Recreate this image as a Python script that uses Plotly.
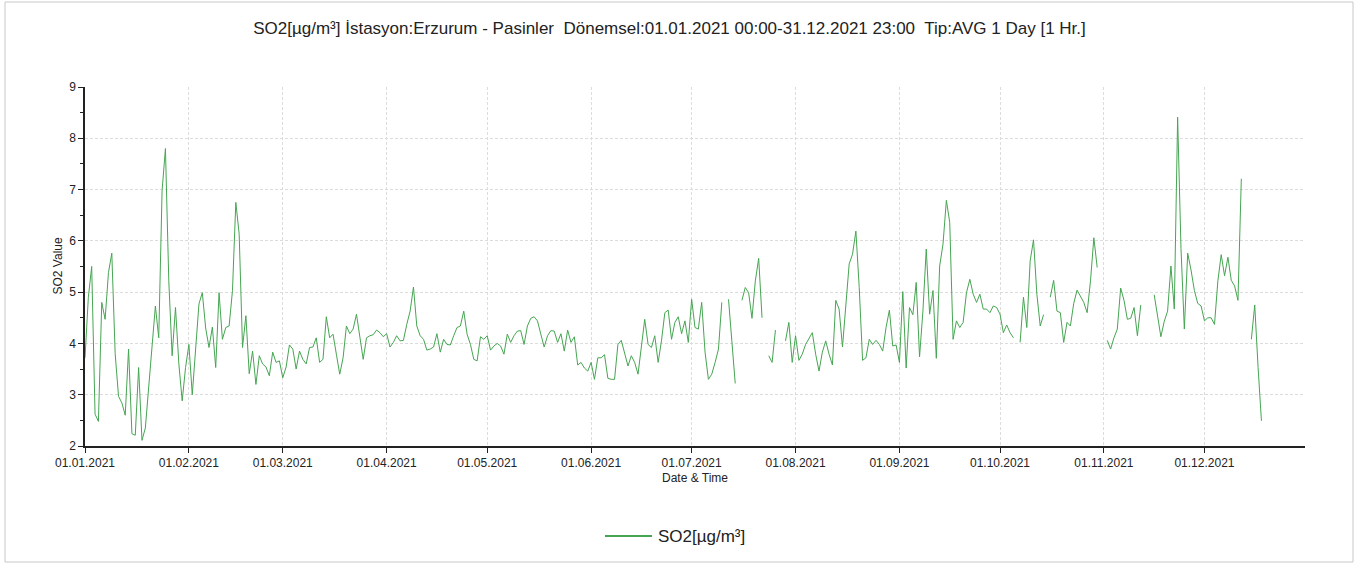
import pandas as pd
import plotly.graph_objects as go

# Daily SO2 averages (µg/m³), one list per month; None = no valid data that day
so2_jan = [3.72, 4.9, 5.5, 2.62, 2.48, 4.8, 4.47, 5.38, 5.76, 3.8, 2.97, 2.84, 2.6, 3.89, 2.24, 2.21,
           3.53, 2.11, 2.35, 3.2, 3.92, 4.73, 4.11, 6.98, 7.8, 5.22, 3.76, 4.7, 3.6, 2.88, 3.53]
so2_feb = [3.98, 3.0, 3.98, 4.77, 4.99, 4.3, 3.92, 4.32, 3.53, 4.99, 4.08, 4.31, 4.34, 5.03, 6.75, 6.13,
           3.92, 4.54, 3.41, 3.85, 3.2, 3.76, 3.6, 3.54, 3.37, 3.83, 3.63, 3.66]
so2_mar = [3.33, 3.54, 3.97, 3.89, 3.5, 3.85, 3.69, 3.6, 3.92, 3.93, 4.11, 3.63, 3.69, 4.52, 4.11, 4.18,
           3.79, 3.4, 3.72, 4.34, 4.19, 4.28, 4.57, 4.11, 3.69, 4.11, 4.15, 4.17, 4.26, 4.21, 4.13]
so2_apr = [4.19, 3.93, 4.02, 4.15, 4.05, 4.06, 4.37, 4.63, 5.1, 4.34, 4.15, 4.08, 3.87, 3.89, 3.93, 4.19,
           3.83, 4.08, 3.98, 3.97, 4.15, 4.31, 4.34, 4.63, 4.18, 3.98, 3.69, 3.66, 4.13, 4.08]
so2_may = [4.15, 3.87, 3.95, 4.0, 3.95, 3.79, 4.18, 4.02, 4.15, 4.24, 4.25, 3.98, 4.34, 4.49, 4.52, 4.44,
           4.18, 3.93, 4.15, 4.25, 4.24, 4.02, 4.19, 3.85, 4.26, 4.02, 4.13, 3.58, 3.63, 3.52, 3.46]
so2_jun = [3.63, 3.3, 3.72, 3.72, 3.78, 3.32, 3.3, 3.3, 3.98, 4.06, 3.79, 3.56, 3.76, 3.63, 3.4, 3.92,
           4.47, 3.98, 3.92, 4.15, 3.63, 4.05, 4.6, 4.65, 4.08, 4.41, 4.52, 4.19, 4.44, 4.02]
so2_jul = [4.86, 4.31, 4.28, 4.8, 3.83, 3.3, 3.4, 3.63, 3.89, 4.8, None, 4.86, 4.05, 3.22, None, 4.84,
           5.09, 4.99, 4.49, 5.22, 5.66, 4.5, None, 3.76, 3.63, 4.26, None, None, 4.05, 4.41, 3.63]
so2_aug = [4.15, 3.67, 3.79, 3.98, 4.11, 4.21, 3.79, 3.46, 3.83, 4.05, 3.79, 3.58, 4.84, 4.67, 3.93, 4.7,
           5.55, 5.74, 6.19, 5.09, 3.67, 3.72, 4.08, 3.98, 4.06, 3.98, 3.85, 4.31, 4.65, 3.95, 3.97]
so2_sep = [3.63, 5.01, 3.52, 4.7, 4.56, 5.19, 3.74, 4.63, 5.84, 4.57, 5.03, 3.71, 5.51, 5.94, 6.79, 6.36,
           4.08, 4.44, 4.31, 4.41, 4.99, 5.25, 4.96, 4.8, 4.96, 4.67, 4.67, 4.6, 4.73, 4.7]
so2_oct = [4.57, 4.21, 4.36, 4.21, 4.11, None, 4.02, 4.9, 4.31, 5.61, 6.02, 4.96, 4.34, 4.56, None, 4.9,
           5.23, 4.63, 4.6, 4.02, 4.41, 4.34, 4.78, 5.04, 4.91, 4.8, 4.6, 5.22, 6.06, 5.48, None]
so2_nov = [None, 4.06, 3.89, 4.11, 4.28, 5.08, 4.84, 4.47, 4.49, 4.7, 4.15, 4.75, None, None, None, 4.95,
           4.57, 4.13, 4.43, 4.63, 5.51, 4.67, 8.41, 5.85, 4.28, 5.76, 5.43, 5.03, 4.78, 4.73]
so2_dec = [4.44, 4.5, 4.5, 4.37, 5.22, 5.73, 5.32, 5.68, 5.23, 5.12, 4.84, 7.21, None, None, 4.08, 4.75,
           3.53, 2.49, None, None, None, None, None, None, None, None, None, None, None, None, None]

so2_values = (so2_jan + so2_feb + so2_mar + so2_apr + so2_may + so2_jun +
              so2_jul + so2_aug + so2_sep + so2_oct + so2_nov + so2_dec)
dates = pd.date_range("2021-01-01", "2021-12-31", freq="D")

SERIES_NAME = "SO2[µg/m³]"
LINE_COLOR = "#46a552"
FONT = "Liberation Sans, Arial, sans-serif"
W, H = 1359, 565
ML, MR, MT, MB = 85, 54, 87, 119
PW, PH = W - ML - MR, H - MT - MB


def px_x(px):
    return (px - ML) / PW


def px_y(py):
    return (H - MB - py) / PH


fig = go.Figure()
fig.add_trace(go.Scatter(
    x=dates, y=so2_values, mode="lines", name=SERIES_NAME,
    line=dict(color=LINE_COLOR, width=1), connectgaps=False, showlegend=False,
))

fig.update_layout(
    width=W, height=H,
    margin=dict(l=ML, r=MR, t=MT, b=MB),
    paper_bgcolor="white", plot_bgcolor="white",
    font=dict(family=FONT, size=12, color="#222"),
    title=dict(
        text="SO2[µg/m³] İstasyon:Erzurum - Pasinler  Dönemsel:01.01.2021 00:00-31.12.2021 23:00  Tip:AVG 1 Day [1 Hr.]",
        x=669.5 / W, xanchor="center", xref="container",
        y=1 - 28 / H, yanchor="middle", yref="container",
        font=dict(family=FONT, size=17, color="#222"),
    ),
    xaxis=dict(
        type="date", range=["2021-01-01", "2021-12-31"],
        dtick="M1", tick0="2021-01-01", tickformat="%d.%m.%Y",
        ticks="outside", ticklen=5, tickcolor="#222",
        showline=True, linecolor="#222", linewidth=1.5,
        showgrid=True, gridcolor="#dcdcdc", griddash="3px,2px", gridwidth=1,
        zeroline=False, tickfont=dict(family=FONT, size=12, color="#222"),
    ),
    yaxis=dict(
        range=[2, 9], dtick=1, tick0=2,
        ticks="outside", ticklen=5, tickcolor="#222",
        minor=dict(dtick=0.5, ticks="outside", ticklen=3, tickcolor="#222", showgrid=False),
        showline=True, linecolor="#222", linewidth=1.5,
        showgrid=True, gridcolor="#dcdcdc", griddash="3px,2px", gridwidth=1,
        zeroline=False, tickfont=dict(family=FONT, size=12, color="#222"),
    ),
    annotations=[
        dict(text="SO2 Value", textangle=-90, xref="paper", yref="paper",
             x=px_x(57), y=0.5, xanchor="center", yanchor="middle", showarrow=False,
             font=dict(family=FONT, size=12, color="#222")),
        dict(text="Date &amp; Time", xref="paper", yref="paper",
             x=0.5, y=px_y(478), xanchor="center", yanchor="middle", showarrow=False,
             font=dict(family=FONT, size=12, color="#222")),
        # legend entry text
        dict(text=SERIES_NAME, xref="paper", yref="paper",
             x=px_x(656), y=px_y(536), xanchor="left", yanchor="middle", showarrow=False,
             font=dict(family=FONT, size=17, color="#222")),
    ],
    shapes=[
        dict(type="rect", xref="paper", yref="paper",
             x0=px_x(5), x1=px_x(1353), y0=px_y(562), y1=px_y(2),
             line=dict(color="#c8c8c8", width=1), fillcolor="rgba(0,0,0,0)", layer="below"),
        # legend entry line sample
        dict(type="line", xref="paper", yref="paper",
             x0=px_x(605), x1=px_x(652), y0=px_y(536), y1=px_y(536),
             line=dict(color=LINE_COLOR, width=2)),
    ],
)

fig.write_html("out.html")
